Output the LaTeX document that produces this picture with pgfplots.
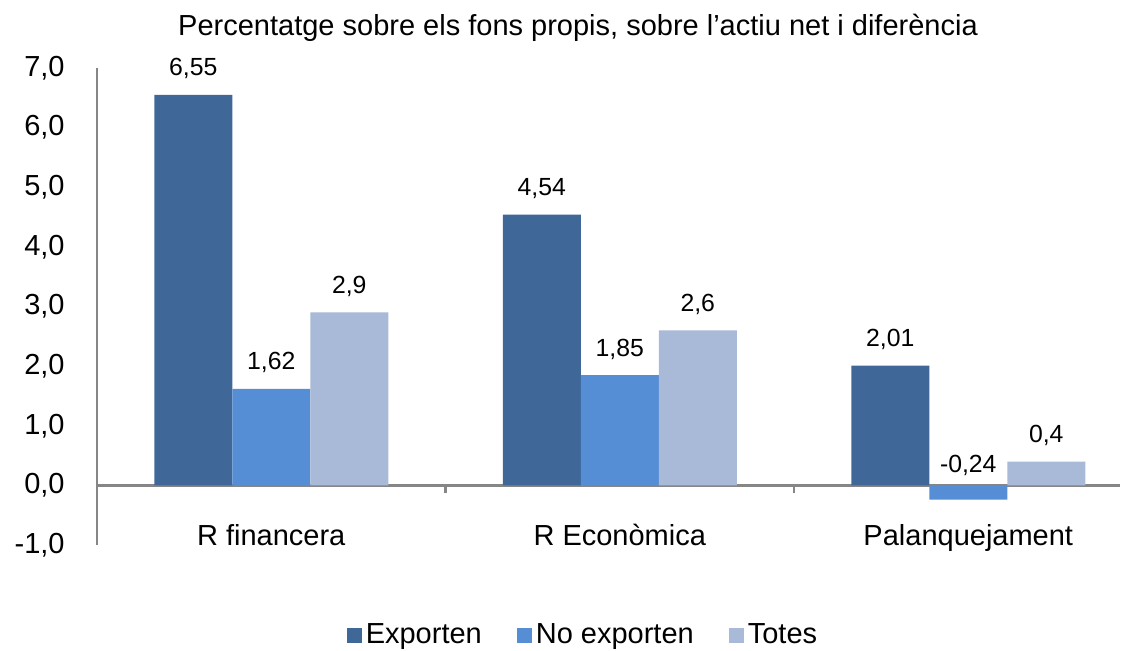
\documentclass[border=0pt]{standalone}
\usepackage{fontspec}
\setmainfont{Liberation Sans}
\usepackage{pgfplots}
\pgfplotsset{compat=1.18}
\definecolor{cA}{HTML}{3F6899}
\definecolor{cB}{HTML}{558ED5}
\definecolor{cC}{HTML}{A9B9D8}
\definecolor{axgray}{HTML}{868686}
\pgfplotsset{sqlegend/.style={legend image code/.code={\fill[##1] (0pt,-3.75pt) rectangle (7.5pt,3.75pt);}}}
\begin{document}
\begin{tikzpicture}
\useasboundingbox (-48.5pt,-52.5pt) rectangle (512.5pt,272.5pt);
\begin{axis}[
  at={(0pt,0pt)}, anchor=south west,
  scale only axis, width=511.5pt, height=238.5pt,
  xmin=-0.5, xmax=2.4354, ymin=-1, ymax=7,
  axis x line=middle, axis y line=left,
  x axis line style={-}, y axis line style={-},
  axis line style={draw=axgray, line width=1.2pt},
  hide obscured x ticks=false, hide obscured y ticks=false,
  ybar, bar width=39pt,
  xtick={0,1,2},
  xticklabels={R financera, R Econòmica, Palanquejament},
  minor xtick={0.5,1.5},
  major tick length=0pt, minor tick length=4pt, tick align=outside,
  major tick style={draw=none},
  minor tick style={draw=axgray, line width=1.2pt},
  ytick={-1,0,...,7},
  /pgf/number format/.cd, fixed, fixed zerofill, precision=1, use comma, assume math mode=true,
  /pgfplots/.cd,
  yticklabel style={font=\fontsize{14.5}{17}\selectfont, anchor=east, inner sep=0pt, xshift=-16pt},
  xticklabel style={font=\fontsize{14.5}{17}\selectfont, anchor=base, inner sep=0pt, yshift=-30pt},
  legend columns=3,
  legend style={draw=none, at={(axis description cs:0.476,-0.1887)}, anchor=center,
    font=\fontsize{14.5}{17}\selectfont,
    /tikz/every even column/.append style={column sep=15.5pt},
    /tikz/every odd column/.append style={column sep=0pt}},
  legend cell align=left,
  clip=false,
]
\addplot[fill=cA, draw=none, bar shift=-39pt, sqlegend,
  point meta=explicit symbolic, nodes near coords,
  every node near coord/.append style={font=\fontsize{12.4}{14}\selectfont, anchor=base, inner sep=0pt, yshift=9.5pt}]
  coordinates {(0,6.55) [6,55] (1,4.54) [4,54] (2,2.01) [2,01]};
\addlegendentry{Exporten}
\addplot[fill=cB, draw=none, bar shift=0pt, sqlegend,
  point meta=explicit symbolic, nodes near coords,
  every node near coord/.append style={font=\fontsize{12.4}{14}\selectfont, anchor=base, inner sep=0pt, yshift=9.5pt}]
  coordinates {(0,1.62) [1,62] (1,1.85) [1,85] (2,-0.24) [\relax]};
\addlegendentry{No exporten}
\addplot[fill=cC, draw=none, bar shift=39pt, sqlegend,
  point meta=explicit symbolic, nodes near coords,
  every node near coord/.append style={font=\fontsize{12.4}{14}\selectfont, anchor=base, inner sep=0pt, yshift=9.5pt}]
  coordinates {(0,2.9) [2,9] (1,2.6) [2,6] (2,0.4) [0,4]};
\addlegendentry{Totes}
\addplot[draw=none, fill=none, forget plot, bar shift=0pt,
  point meta=explicit symbolic, nodes near coords,
  every node near coord/.append style={font=\fontsize{12.4}{14}\selectfont, anchor=base, inner sep=0pt, yshift=6.5pt}]
  coordinates {(2,0) [-0,24]};
\end{axis}
\node[anchor=base, font=\fontsize{14.5}{17}\selectfont, inner sep=0pt] at (240.5pt,255pt) {Percentatge sobre els fons propis, sobre l’actiu net i diferència};
\end{tikzpicture}
\end{document}
